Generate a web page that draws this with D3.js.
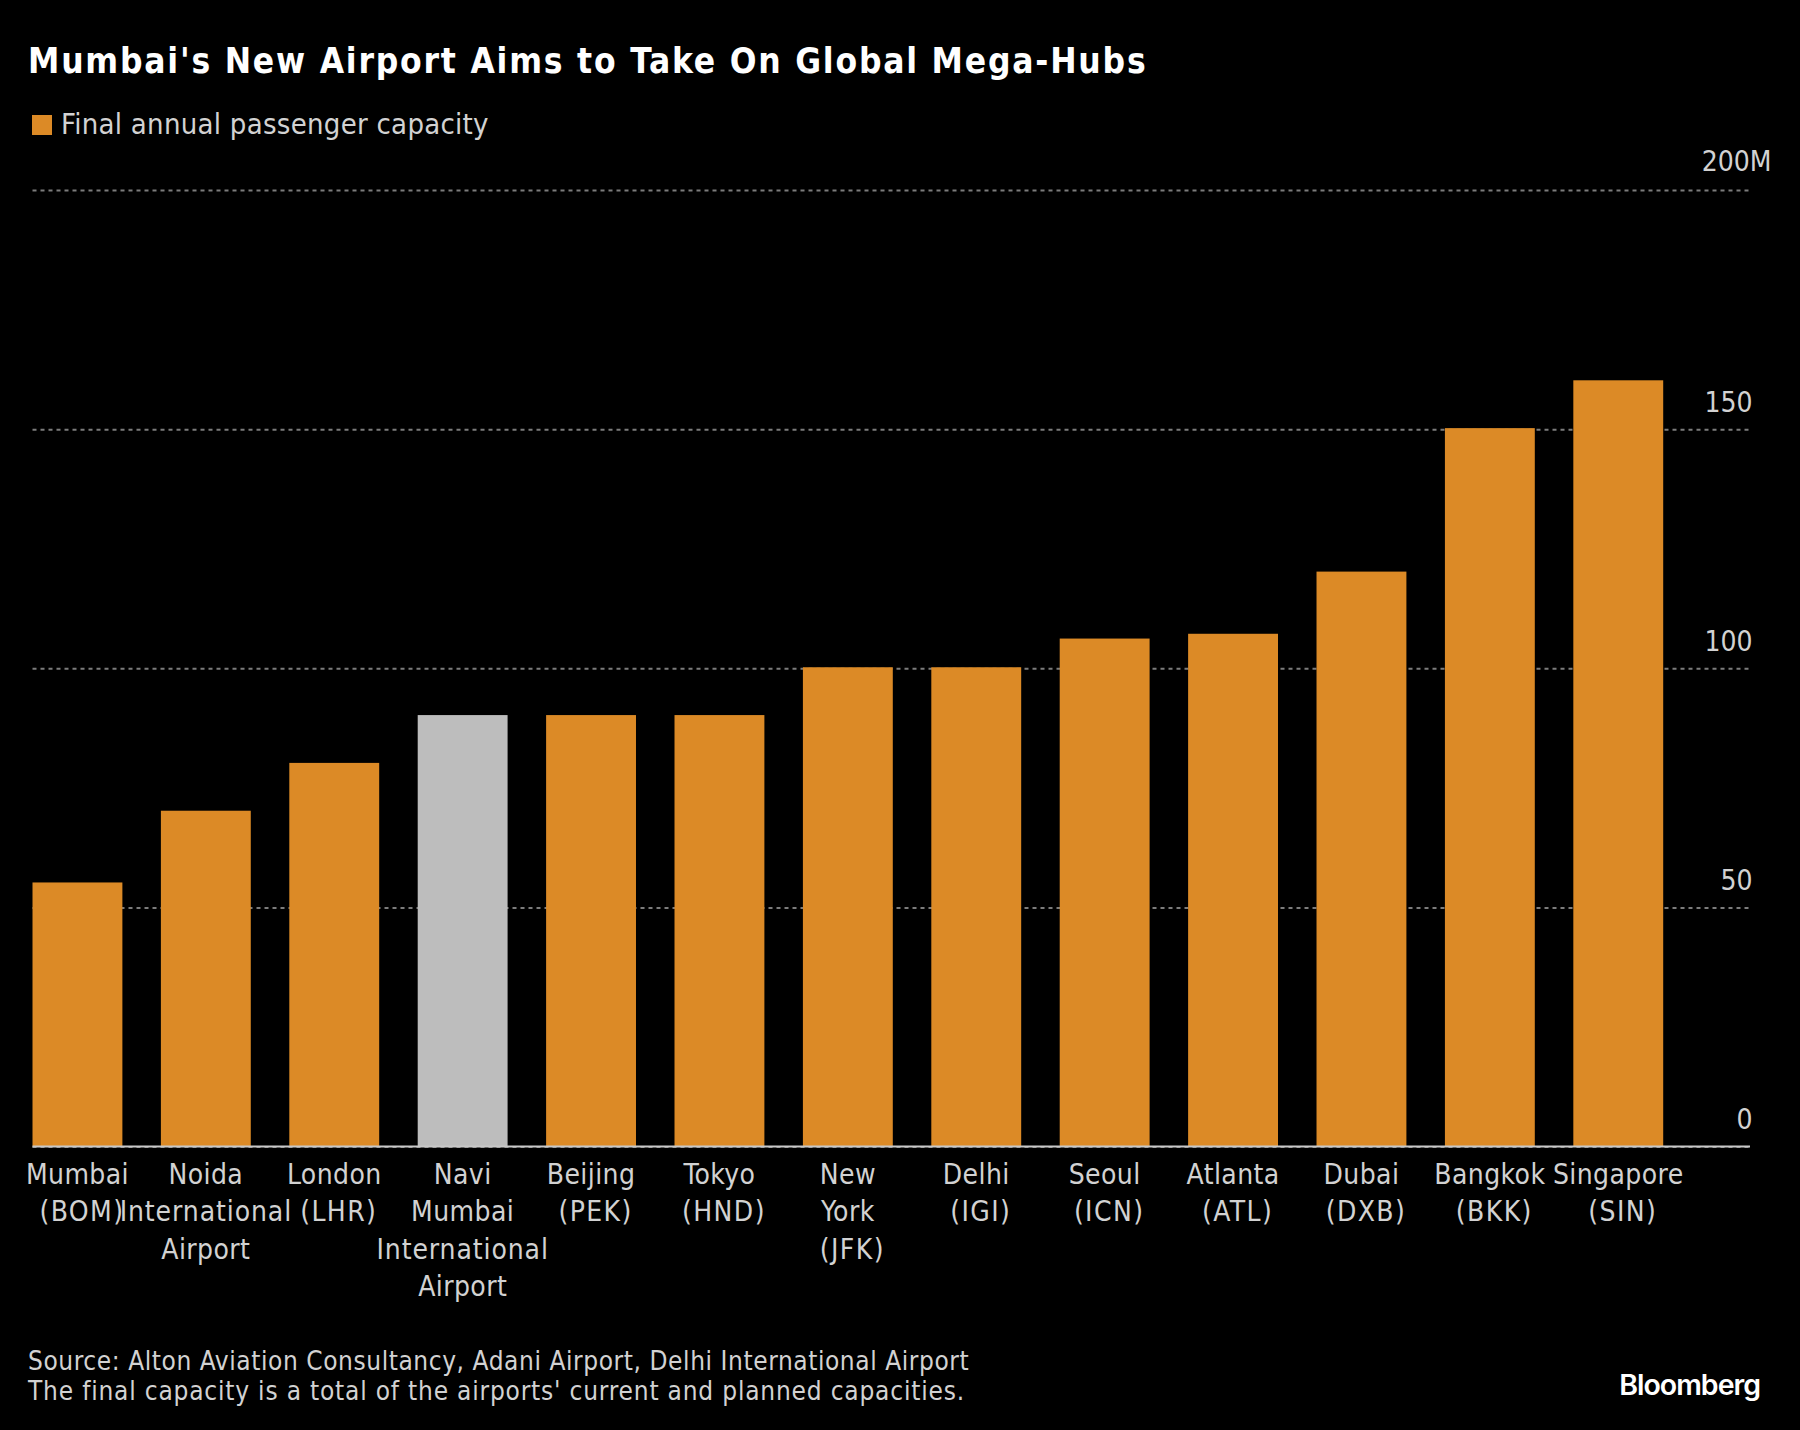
<!DOCTYPE html>
<html>
<head>
<meta charset="utf-8">
<script src="https://cdn.jsdelivr.net/npm/d3@7"></script>
<style>
  html, body { margin: 0; background: #000; }
  text { font-family: "DejaVu Sans Condensed", "DejaVu Sans", sans-serif; fill: #d2d2d2; }
</style>
</head>
<body>
<div id="chart"></div>
<script>
const airports = ["Mumbai (BOM)", "Noida International Airport", "London (LHR)", "Navi Mumbai International Airport",
  "Beijing (PEK)", "Tokyo (HND)", "New York (JFK)", "Delhi (IGI)", "Seoul (ICN)", "Atlanta (ATL)",
  "Dubai (DXB)", "Bangkok (BKK)", "Singapore (SIN)"];
const capacity = [55, 70, 80, 90, 90, 90, 100, 100, 106, 107, 120, 150, 160];
const highlighted = ["Navi Mumbai International Airport"];
const yTicks = [0, 50, 100, 150, 200];
const labelLines = [["Mumbai", "(BOM)"], ["Noida", "International", "Airport"], ["London", "(LHR)"],
  ["Navi", "Mumbai", "International", "Airport"], ["Beijing", "(PEK)"], ["Tokyo", "(HND)"], ["New", "York", "(JFK)"],
  ["Delhi", "(IGI)"], ["Seoul", "(ICN)"], ["Atlanta", "(ATL)"], ["Dubai", "(DXB)"], ["Bangkok", "(BKK)"], ["Singapore", "(SIN)"]];
const footnotes = ["Source: Alton Aviation Consultancy, Adani Airport, Delhi International Airport",
  "The final capacity is a total of the airports' current and planned capacities."];

const w = 1800;
const h = 1430;
const orange = "#dc8a26";
const grey = "#bdbdbd";

const x = d3.scaleBand().domain(airports).range([32.5, 1663.2]).paddingInner(0.3).paddingOuter(0);
const y = d3.scaleLinear().domain([0, 200]).range([1146.5, 190]);

const svg = d3.select("#chart").append("svg")
  .attr("width", w).attr("height", h)
  .style("display", "block");

svg.append("text").attr("x", 28).attr("y", 73)
  .style("font-weight", 700).style("font-size", "35px").style("letter-spacing", "1.8px").style("fill", "#fff")
  .text("Mumbai's New Airport Aims to Take On Global Mega-Hubs");

svg.append("rect").attr("x", 32).attr("y", 115).attr("width", 20).attr("height", 20).attr("fill", orange);
svg.append("text").attr("x", 61).attr("y", 134).style("font-size", "29px").style("letter-spacing", "0.27px")
  .text("Final annual passenger capacity");

// grid and y labels
const yAxis = d3.axisRight(y).tickValues(yTicks).tickSize(1718)
  .tickFormat(d => d === 200 ? "200M" : d);
const gy = svg.append("g").attr("transform", "translate(32.5,0)").call(yAxis);
gy.select(".domain").remove();
gy.selectAll(".tick line")
  .attr("stroke", "#7c7c7c").attr("stroke-width", 2)
  .attr("stroke-dasharray", "4 4");
gy.selectAll(".tick text")
  .attr("x", 1720).attr("dy", 0).attr("y", -18)
  .attr("text-anchor", "end").style("font-size", "28px")
  .filter(d => d === 200).attr("x", 1739).attr("y", -19.5);

svg.append("g").selectAll("rect").data(airports).join("rect")
  .attr("x", d => x(d))
  .attr("y", (d, i) => y(capacity[i]) - 1)
  .attr("width", x.bandwidth())
  .attr("height", (d, i) => y(0) - y(capacity[i]) + 1)
  .attr("fill", d => highlighted.includes(d) ? grey : orange);

// baseline sits over the bars
svg.append("line").attr("x1", 32.5).attr("x2", 1750).attr("y1", y(0)).attr("y2", y(0))
  .attr("stroke", "#c8c8c8").attr("stroke-width", 2);

// x labels, the bracketed codes sit a bit right of centre in the original and run wider
const lineSpacing = l => l.startsWith("(") ? "1.4px" : l === "International" ? "0.9px" : "0.4px";
const xAxis = d3.axisBottom(x).tickSize(0).tickFormat("");
const gx = svg.append("g").attr("transform", `translate(0,${y(0)})`).call(xAxis);
gx.select(".domain").remove();
gx.selectAll(".tick text").each(function (d, i) {
  const t = d3.select(this).attr("y", 0).attr("dy", 0).style("font-size", "28px");
  t.selectAll("tspan").data(labelLines[i]).join("tspan")
    .attr("x", l => l.startsWith("(") ? 4.5 : 0)
    .attr("y", (l, j) => 37 + j * 37.5)
    .style("letter-spacing", lineSpacing)
    .text(l => l);
});

const footSpacing = ["0.57px", "0.8px"];
svg.append("g").selectAll("text").data(footnotes).join("text")
  .attr("x", 28).attr("y", (d, i) => 1370 + i * 30)
  .style("font-size", "26px")
  .style("letter-spacing", (d, i) => footSpacing[i])
  .text(d => d);

svg.append("text").attr("x", 1760).attr("y", 1395).attr("text-anchor", "end")
  .style("font-family", "Inter").style("font-weight", 600).style("font-size", "28.5px")
  .style("letter-spacing", "-1px").style("fill", "#fff")
  .text("Bloomberg");
</script>
</body>
</html>
